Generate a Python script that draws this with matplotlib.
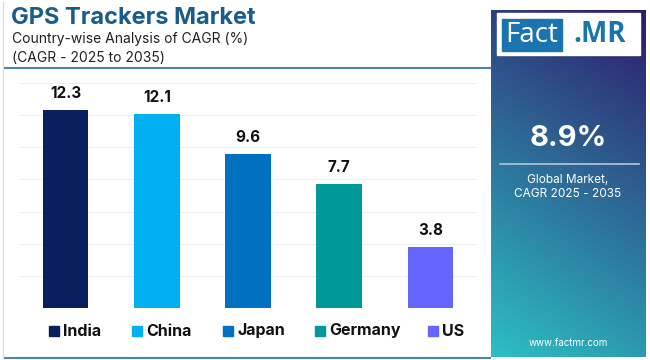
import numpy as np
import matplotlib.pyplot as plt
from matplotlib.patches import Rectangle
from matplotlib.lines import Line2D

# data
countries = ["India", "China", "Japan", "Germany", "US"]
cagr = [12.3, 12.1, 9.6, 7.7, 3.8]
colors = ["#0b1f5e", "#00b0f0", "#0070c0", "#009999", "#6666ff"]
global_cagr = "8.9%"

FONT = "Inter"
plt.rcParams["font.family"] = [FONT, "DejaVu Sans"]

W, H = 650, 360
fig = plt.figure(figsize=(6.5, 3.6), dpi=100)
fig.patch.set_facecolor("white")


def fx(px):
    return px / W


def fy(py):
    return 1 - py / H


# -----------------------------
# Title block
# -----------------------------
fig.text(fx(11), fy(18), "GPS Trackers Market", fontsize=17, fontweight="bold",
         color="#1a5c8c", va="center", ha="left")
fig.text(fx(12), fy(39), "Country-wise Analysis of CAGR (%)", fontsize=10,
         color="#222222", va="center", ha="left")
fig.text(fx(12), fy(58), "(CAGR - 2025 to 2035)", fontsize=10,
         color="#222222", va="center", ha="left")

fig.add_artist(Line2D([fx(4), fx(490)], [fy(68), fy(68)], color="#4a86b0", lw=1.5))
fig.add_artist(Line2D([fx(4), fx(490)], [fy(358), fy(358)], color="#4a86b0", lw=1.5))
fig.add_artist(Line2D([fx(3), fx(3)], [fy(2), fy(358)], color="#dddddd", lw=1))

# -----------------------------
# Bar chart
# -----------------------------
ax = fig.add_axes([fx(20), fy(308), fx(476) - fx(20), fy(83) - fy(308)])
x = np.arange(len(countries))
ax.bar(x, cagr, width=0.5, color=colors, zorder=3)
for xi, v in zip(x, cagr):
    ax.text(xi, v + 0.55, f"{v}", ha="center", va="bottom", fontsize=11,
            fontweight="bold", color="#111111")
ax.set_xlim(-0.5, 4.5)
ax.set_ylim(0, 14)
ax.set_yticks(np.arange(0, 15, 2))
ax.yaxis.grid(True, color="#eeeeee", lw=0.8, zorder=0)
ax.tick_params(left=False, bottom=False, labelleft=False, labelbottom=False)
for s in ax.spines.values():
    s.set_visible(False)

# legend
leg_sq = [54, 137, 228, 320, 433]
for px, name, c in zip(leg_sq, countries, colors):
    fig.add_artist(Rectangle((fx(px - 5), fy(336)), fx(10), fy(326) - fy(336),
                             color=c, transform=fig.transFigure))
    fig.text(fx(px + 9), fy(331), name, fontsize=11.5, fontweight="bold",
             color="#111111", va="center", ha="left")

# -----------------------------
# Right panel with gradient
# -----------------------------
pax = fig.add_axes([fx(491), fy(357), fx(646) - fx(491), fy(10) - fy(357)])
gx, gy = np.meshgrid(np.linspace(0, 1, 200), np.linspace(0, 1, 400))
t = np.clip((gy * 0.85 + (1 - gx) * 0.25) / 1.1, 0, 1)
top = np.array([0x2e, 0x1a, 0x6c]) / 255
bot = np.array([0x2c, 0xc0, 0xc4]) / 255
img = top[None, None, :] * (1 - t[..., None]) + bot[None, None, :] * t[..., None]
pax.imshow(img, aspect="auto", extent=[0, 1, 0, 1], origin="upper")
pax.set_xlim(0, 1)
pax.set_ylim(0, 1)
pax.axis("off")

# logo
fig.add_artist(Rectangle((fx(497), fy(55)), fx(640) - fx(497), fy(13) - fy(55),
                         color="white", transform=fig.transFigure))
fig.add_artist(Rectangle((fx(502), fy(51)), fx(562) - fx(502), fy(19) - fy(51),
                         color="#1a74b0", transform=fig.transFigure))
fig.text(fx(532), fy(35), "Fact", fontsize=20, color="white", ha="center",
         va="center", family=["Open Sans", "DejaVu Sans"])
fig.text(fx(600), fy(35), ".MR", fontsize=20, color="#1a74b0", ha="center",
         va="center", fontweight="bold", family=["Open Sans", "DejaVu Sans"])

fig.text(fx(568), fy(138), global_cagr, fontsize=21, fontweight="bold",
         color="white", ha="center", va="center")
fig.add_artist(Line2D([fx(500), fx(639)], [fy(164), fy(164)], color="#b8c4e0", lw=1.2))
fig.text(fx(568), fy(180), "Global Market,", fontsize=8.5, color="white",
         ha="center", va="center")
fig.text(fx(568), fy(194), "CAGR 2025 - 2035", fontsize=8.5, color="white",
         ha="center", va="center")
fig.text(fx(568), fy(343), "www.factmr.com", fontsize=7, color="white",
         ha="center", va="center")

plt.savefig("out.png", dpi=100)
